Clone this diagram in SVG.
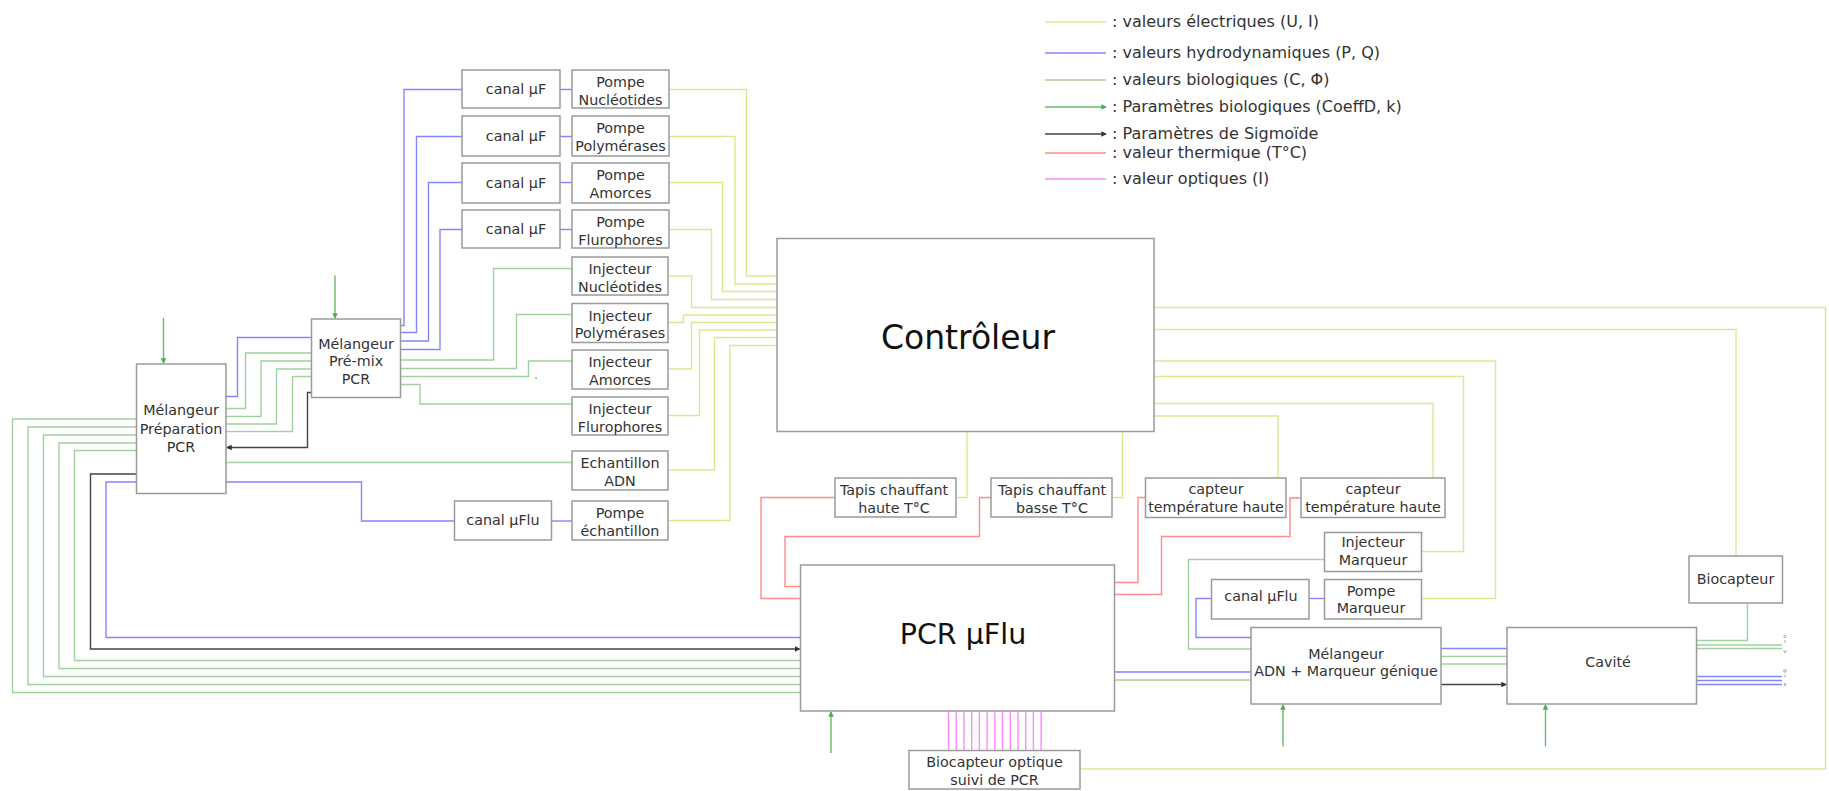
<svg xmlns="http://www.w3.org/2000/svg" width="1829" height="791" viewBox="0 0 1829 791">
<defs>
<style>
.box{fill:#fff;stroke:#9a9a9a;stroke-width:1.5}
.t{font-family:"DejaVu Sans",Verdana,sans-serif;font-size:14.3px;fill:#333;text-anchor:middle}
.lg{font-family:"DejaVu Sans",Verdana,sans-serif;font-size:16px;fill:#333}
.big{font-family:"DejaVu Sans",Verdana,sans-serif;fill:#111;text-anchor:middle}
.c{fill:none;stroke-width:1.4}
.el{stroke:#dce88e}
.hy{stroke:#8585ff}
.bv{stroke:#b9c99c}
.bi{stroke:#9fd29f}
.bp{stroke:#66bb66}
.sg{stroke:#444}
.th{stroke:#ff8a8a}
.op{stroke:#ff88ff}
.pm{fill:none;stroke:#999;stroke-width:0.8}
</style>
<marker id="ag" viewBox="0 0 6 6" refX="5" refY="3" markerWidth="4" markerHeight="4" orient="auto"><path d="M0,0 L6,3 L0,6 z" fill="#4caf50"/></marker>
<marker id="ak" viewBox="0 0 6 6" refX="5" refY="3" markerWidth="4" markerHeight="4" orient="auto"><path d="M0,0 L6,3 L0,6 z" fill="#333"/></marker>
</defs>
<rect width="1829" height="791" fill="#fff"/>

<g id="legend">
<line class="c el" x1="1045" y1="22" x2="1106" y2="22"/>
<line class="c hy" x1="1045" y1="53" x2="1106" y2="53"/>
<line class="c bv" x1="1045" y1="80" x2="1106" y2="80"/>
<line class="c bp" x1="1045" y1="107" x2="1106" y2="107" marker-end="url(#ag)"/>
<line class="c sg" x1="1045" y1="134" x2="1106" y2="134" marker-end="url(#ak)"/>
<line class="c th" x1="1045" y1="153" x2="1106" y2="153"/>
<line class="c op" x1="1045" y1="179" x2="1106" y2="179"/>
<text class="lg" x="1112" y="27">: valeurs électriques (U, I)</text>
<text class="lg" x="1112" y="58">: valeurs hydrodynamiques (P, Q)</text>
<text class="lg" x="1112" y="85">: valeurs biologiques (C, Φ)</text>
<text class="lg" x="1112" y="112">: Paramètres biologiques (CoeffD, k)</text>
<text class="lg" x="1112" y="139">: Paramètres de Sigmoïde</text>
<text class="lg" x="1112" y="158">: valeur thermique (T°C)</text>
<text class="lg" x="1112" y="184">: valeur optiques (I)</text>
</g>

<g id="connectors">
<!-- hydro -->
<path class="c hy" d="M400.5,325.5 H404 V89.5 H462"/>
<path class="c hy" d="M400.5,332.5 H416.5 V136.5 H462"/>
<path class="c hy" d="M400.5,341 H428.5 V182.5 H462"/>
<path class="c hy" d="M400.5,349.5 H440 V229.5 H462"/>
<path class="c hy" d="M560,89.5 H572 M560,136.5 H572 M560,182.5 H572 M560,229.5 H572"/>
<path class="c hy" d="M226,396.5 H237.5 V337.5 H311.5"/>
<path class="c hy" d="M226,482 H361.5 V521 H454.5"/>
<path class="c hy" d="M551.5,521 H572"/>
<path class="c hy" d="M136.5,482 H106 V637.5 H800.5"/>
<path class="c hy" d="M1114.5,672 H1251"/>
<path class="c hy" d="M1211.5,598.5 H1196 V637.5 H1251"/>
<path class="c hy" d="M1309,598.5 H1324.5"/>
<path class="c hy" d="M1441,648.5 H1507"/>
<path class="c hy" d="M1696.5,676.5 H1782 M1696.5,680.5 H1782 M1696.5,684.5 H1782"/>
<!-- bio -->
<path class="c bi" d="M400.5,360 H493.5 V268.5 H572"/>
<path class="c bi" d="M400.5,368.5 H516.5 V314.5 H572"/>
<path class="c bi" d="M400.5,376.5 H528.5 V361 H572"/>
<path class="c bi" d="M400.5,384.5 H420 V404 H572"/>
<path class="c bi" d="M226,408.5 H245.5 V353 H311.5"/>
<path class="c bi" d="M226,416.5 H261 V361 H311.5"/>
<path class="c bi" d="M226,424 H276.5 V369 H311.5"/>
<path class="c bi" d="M226,431.5 H292.5 V376.5 H311.5"/>
<path class="c bi" d="M226,462.5 H572"/>
<path class="c bi" d="M136.5,419 H12.5 V692.5 H800.5"/>
<path class="c bi" d="M136.5,427 H28 V684.5 H800.5"/>
<path class="c bi" d="M136.5,435 H43.5 V676.5 H800.5"/>
<path class="c bi" d="M136.5,443 H59 V668.5 H800.5"/>
<path class="c bi" d="M136.5,450.5 H74.5 V660.5 H800.5"/>
<path class="c bi" d="M1114.5,680 H1251"/>
<path class="c bi" d="M1324.5,559.5 H1188.5 V649 H1251"/>
<path class="c bi" d="M1441,656.5 H1507 M1441,664 H1507"/>
<path class="c bi" d="M1747.5,603 V640.5 H1696.5"/>
<path class="c bi" d="M1696.5,645 H1782 M1696.5,648.5 H1782"/>
<rect x="535" y="377" width="2" height="2" fill="#9fd29f"/>
<!-- bio params (inputs) -->
<path class="c bp" d="M163.5,318 V363" marker-end="url(#ag)"/>
<path class="c bp" d="M335,275.5 V318" marker-end="url(#ag)"/>
<path class="c bp" d="M831,753 V712" marker-end="url(#ag)"/>
<path class="c bp" d="M1283,746.5 V705" marker-end="url(#ag)"/>
<path class="c bp" d="M1545.5,746.5 V705" marker-end="url(#ag)"/>
<!-- sigmoid -->
<path class="c sg" d="M311.5,392.5 H307.5 V447.5 H227" marker-end="url(#ak)"/>
<path class="c sg" d="M136.5,474 H90.5 V649 H799.5" marker-end="url(#ak)"/>
<path class="c sg" d="M1441,684.5 H1506" marker-end="url(#ak)"/>
<!-- thermal -->
<path class="c th" d="M835,497.5 H761 V598.5 H800.5"/>
<path class="c th" d="M991,497.5 H979.5 V536.5 H785 V586.5 H800.5"/>
<path class="c th" d="M1114.5,582.5 H1138 V497.5 H1145.5"/>
<path class="c th" d="M1114.5,594.5 H1161.5 V536.5 H1290 V498 H1301"/>
<!-- electric -->
<path class="c el" d="M669,89.5 H746.5 V276 H777"/>
<path class="c el" d="M669,136.5 H735 V284 H777"/>
<path class="c el" d="M669,182.5 H722.5 V291.5 H777"/>
<path class="c el" d="M669,229.5 H711.5 V299.5 H777"/>
<path class="c el" d="M668,276 H691.5 V307.5 H777"/>
<path class="c el" d="M668,322.5 H683.5 V315 H777"/>
<path class="c el" d="M668,369 H691.5 V322.5 H777"/>
<path class="c el" d="M668,415.5 H699.5 V330 H777"/>
<path class="c el" d="M668,470 H714.5 V337.5 H777"/>
<path class="c el" d="M668,520.5 H730 V345.5 H777"/>
<path class="c el" d="M967,431 V497.5 H956"/>
<path class="c el" d="M1122.5,431 V497.5 H1112"/>
<path class="c el" d="M1154,416 H1278 V478"/>
<path class="c el" d="M1154,403.5 H1433 V478"/>
<path class="c el" d="M1154,376.5 H1463.5 V551.5 H1421.5"/>
<path class="c el" d="M1154,361 H1495.5 V598.5 H1421.5"/>
<path class="c el" d="M1154,329.5 H1736 V556"/>
<path class="c el" d="M1154,307.5 H1825.5 V769 H1080"/>
<!-- optical -->
<path class="c op" d="M948.5,711 V750.5 M956.2,711 V750.5 M963.9,711 V750.5 M971.7,711 V750.5 M979.4,711 V750.5 M987.1,711 V750.5 M994.8,711 V750.5 M1002.5,711 V750.5 M1010.3,711 V750.5 M1018,711 V750.5 M1025.7,711 V750.5 M1033.4,711 V750.5 M1041.1,711 V750.5"/>
<!-- port marks -->
<g class="pm">
<circle cx="1693" cy="636.5" r="1.3"/><path d="M1693,640 V643 M1691.5,650 L1693,653 L1694.5,650"/>
<circle cx="1785" cy="636.5" r="1.3"/><path d="M1785,640 V643 M1783.5,650 L1785,653 L1786.5,650"/>
<circle cx="1693" cy="671" r="1.3"/><path d="M1693,674.5 V677.5 M1692,683 L1694,686 M1694,683 L1692,686"/>
<circle cx="1785" cy="671" r="1.3"/><path d="M1785,674.5 V677.5 M1784,683 L1786,686 M1786,683 L1784,686"/>
</g>
</g>

<g id="canal1"><rect class="box" x="462" y="70" width="98" height="38"/><text class="t" x="516" y="94">canal µF</text></g>
<g id="canal2"><rect class="box" x="462" y="116" width="98" height="40"/><text class="t" x="516" y="141">canal µF</text></g>
<g id="canal3"><rect class="box" x="462" y="163" width="98" height="40"/><text class="t" x="516" y="188">canal µF</text></g>
<g id="canal4"><rect class="box" x="462" y="210" width="98" height="38"/><text class="t" x="516" y="234">canal µF</text></g>

<g id="pompeNuc"><rect class="box" x="572" y="70" width="97" height="38"/><text class="t" x="620.5" y="87">Pompe</text><text class="t" x="620.5" y="104.5">Nucléotides</text></g>
<g id="pompePoly"><rect class="box" x="572" y="116" width="97" height="40"/><text class="t" x="620.5" y="133">Pompe</text><text class="t" x="620.5" y="150.5">Polymérases</text></g>
<g id="pompeAm"><rect class="box" x="572" y="163" width="97" height="40"/><text class="t" x="620.5" y="180">Pompe</text><text class="t" x="620.5" y="197.5">Amorces</text></g>
<g id="pompeFl"><rect class="box" x="572" y="210" width="97" height="38"/><text class="t" x="620.5" y="227">Pompe</text><text class="t" x="620.5" y="244.5">Flurophores</text></g>

<g id="injNuc"><rect class="box" x="572" y="257" width="96" height="38"/><text class="t" x="620" y="274">Injecteur</text><text class="t" x="620" y="291.5">Nucléotides</text></g>
<g id="injPoly"><rect class="box" x="572" y="303.5" width="96" height="39"/><text class="t" x="620" y="320.5">Injecteur</text><text class="t" x="620" y="338">Polymérases</text></g>
<g id="injAm"><rect class="box" x="572" y="350" width="96" height="39"/><text class="t" x="620" y="367">Injecteur</text><text class="t" x="620" y="384.5">Amorces</text></g>
<g id="injFl"><rect class="box" x="572" y="397" width="96" height="38"/><text class="t" x="620" y="414">Injecteur</text><text class="t" x="620" y="431.5">Flurophores</text></g>
<g id="echant"><rect class="box" x="572" y="451" width="96" height="39"/><text class="t" x="620" y="468">Echantillon</text><text class="t" x="620" y="485.5">ADN</text></g>
<g id="pompeEch"><rect class="box" x="572" y="501" width="96" height="39"/><text class="t" x="620" y="518">Pompe</text><text class="t" x="620" y="535.5">échantillon</text></g>
<g id="canalFlu"><rect class="box" x="454.5" y="501" width="97" height="39"/><text class="t" x="503" y="525">canal µFlu</text></g>

<g id="premix"><rect class="box" x="311.5" y="319" width="89" height="78.5"/><text class="t" x="356" y="348.5">Mélangeur</text><text class="t" x="356" y="366">Pré-mix</text><text class="t" x="356" y="384">PCR</text></g>
<g id="prep"><rect class="box" x="136.5" y="364" width="89.5" height="129.5"/><text class="t" x="181" y="415">Mélangeur</text><text class="t" x="181" y="433.5">Préparation</text><text class="t" x="181" y="451.5">PCR</text></g>

<g id="controleur"><rect class="box" x="777" y="238.5" width="377" height="193"/><text class="big" x="968" y="349" font-size="33">Contrôleur</text></g>
<g id="pcr"><rect class="box" x="800.5" y="565" width="314" height="146"/><text class="big" x="963" y="644" font-size="28.5">PCR µFlu</text></g>

<g id="tapisH"><rect class="box" x="835" y="478" width="121" height="39"/><text class="t" x="894" y="495">Tapis chauffant</text><text class="t" x="894" y="512.5">haute T°C</text></g>
<g id="tapisB"><rect class="box" x="991" y="478" width="121" height="39"/><text class="t" x="1052" y="495">Tapis chauffant</text><text class="t" x="1052" y="512.5">basse T°C</text></g>
<g id="capt1"><rect class="box" x="1145.5" y="478" width="140.5" height="39.5"/><text class="t" x="1216" y="493.5">capteur</text><text class="t" x="1216" y="511.5">température haute</text></g>
<g id="capt2"><rect class="box" x="1301" y="478" width="144" height="39.5"/><text class="t" x="1373" y="493.5">capteur</text><text class="t" x="1373" y="511.5">température haute</text></g>
<g id="injMarq"><rect class="box" x="1324.5" y="532.5" width="97" height="39"/><text class="t" x="1373" y="547">Injecteur</text><text class="t" x="1373" y="564.5">Marqueur</text></g>
<g id="pompeMarq"><rect class="box" x="1324.5" y="579.5" width="97" height="39.5"/><text class="t" x="1371" y="595.5">Pompe</text><text class="t" x="1371" y="613">Marqueur</text></g>
<g id="canalFlu2"><rect class="box" x="1211.5" y="579.5" width="97.5" height="39.5"/><text class="t" x="1261" y="601">canal µFlu</text></g>
<g id="melADN"><rect class="box" x="1251" y="627.5" width="190" height="76.5"/><text class="t" x="1346" y="658.5">Mélangeur</text><text class="t" x="1346" y="676" font-size="13.9">ADN + Marqueur génique</text></g>
<g id="cavite"><rect class="box" x="1507" y="627.5" width="189.5" height="76.5"/><text class="t" x="1608" y="667">Cavité</text></g>
<g id="biocapt"><rect class="box" x="1689" y="556" width="93.5" height="47"/><text class="t" x="1735.5" y="583.5">Biocapteur</text></g>
<g id="bioOpt"><rect class="box" x="909" y="750.5" width="171" height="38.5"/><text class="t" x="994.5" y="767">Biocapteur optique</text><text class="t" x="994.5" y="784.5">suivi de PCR</text></g>
</svg>
